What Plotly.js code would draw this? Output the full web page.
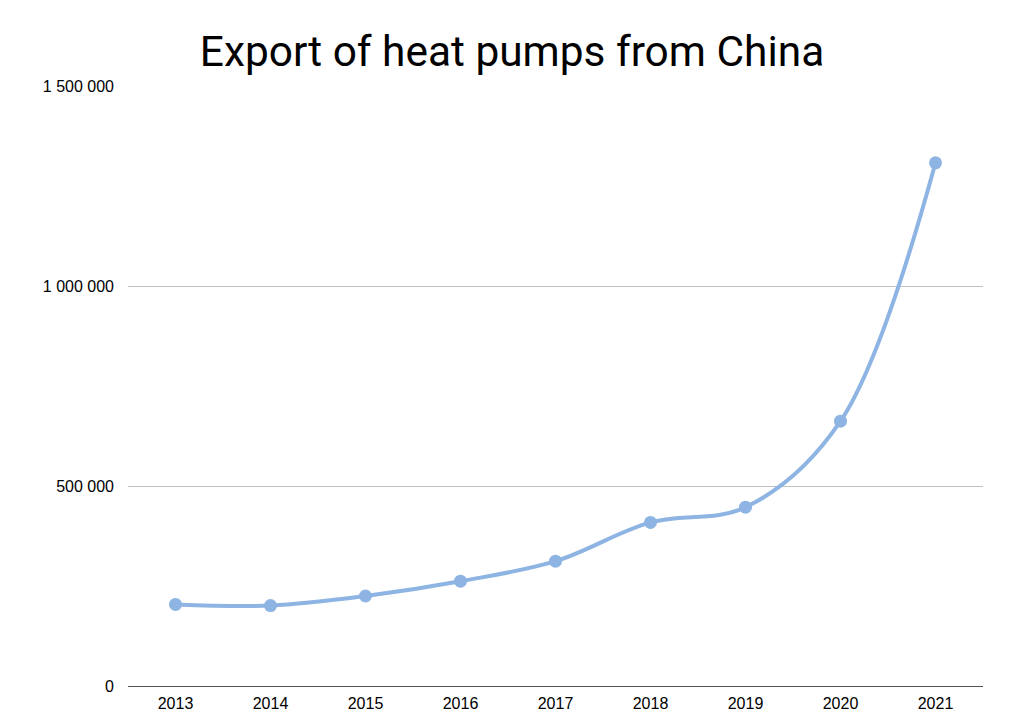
<!DOCTYPE html>
<html>
<head>
<meta charset="utf-8">
<script src="https://cdn.plot.ly/plotly-3.0.1.min.js"></script>
<style>html,body{margin:0;padding:0;background:#fff;}#chart{width:1024px;height:719px;}</style>
</head>
<body>
<div id="chart"></div>
<script>
const years = ["2013","2014","2015","2016","2017","2018","2019","2020","2021"];
const exports = [204000, 201000, 225000, 262000, 312000, 409000, 447000, 662000, 1308000];
const yTicks = [0, 500000, 1000000, 1500000];

const trace = {
  x: years,
  y: exports,
  type: 'scatter',
  mode: 'lines+markers',
  line: {color: '#8db4e2', width: 4, shape: 'spline', smoothing: 1},
  marker: {color: '#8db4e2', size: 13},
  hoverinfo: 'x+y'
};

const layout = {
  width: 1024, height: 719,
  margin: {l: 128, r: 41, t: 86, b: 33},
  paper_bgcolor: '#ffffff', plot_bgcolor: '#ffffff',
  separators: '. ',
  showlegend: false,
  title: {
    text: 'Export of heat pumps from China',
    font: {family: 'Roboto', size: 42.4, color: '#000000'},
    x: 0.5, xanchor: 'center', xref: 'container',
    y: 1 - 51/719, yanchor: 'middle', yref: 'container'
  },
  xaxis: {
    type: 'category',
    range: [-0.5, 8.5],
    showgrid: false,
    showline: true, linecolor: '#555555', linewidth: 1,
    ticks: '',
    ticklabelstandoff: 3,
    tickfont: {family: 'Liberation Sans', size: 16, color: '#000000'},
    fixedrange: true
  },
  yaxis: {
    range: [0, 1500000],
    tickvals: yTicks,
    tickformat: ',d',
    showgrid: true, gridcolor: '#c0c0c0', gridwidth: 1,
    zeroline: false,
    showline: false,
    ticks: '',
    ticklen: 0,
    ticklabelstandoff: 13,
    tickfont: {family: 'Liberation Sans', size: 16, color: '#000000'},
    fixedrange: true
  }
};

Plotly.newPlot('chart', [trace], layout, {displayModeBar: false, staticPlot: true});
</script>
</body>
</html>
